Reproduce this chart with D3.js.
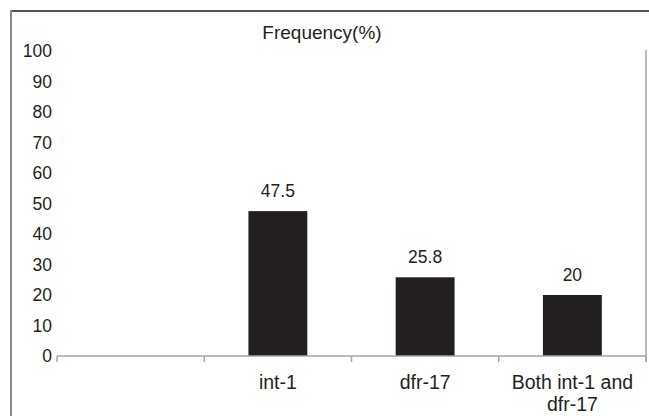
<!DOCTYPE html>
<html>
<head>
<meta charset="utf-8">
<script src="https://cdn.jsdelivr.net/npm/d3@7"></script>
<style>
  html, body { margin: 0; padding: 0; background: #fff; }
  svg { display: block; font-family: "Liberation Sans", Arial, sans-serif; }
</style>
</head>
<body>
<svg id="chart" width="649" height="416"></svg>
<script>
const categories = ["", "int-1", "dfr-17", "Both int-1 and dfr-17"];
const categoryLines = [[""], ["int-1"], ["dfr-17"], ["Both int-1 and", "dfr-17"]];
const values = [null, 47.5, 25.8, 20];
const valueLabels = ["", "47.5", "25.8", "20"];
const yTicks = [0, 10, 20, 30, 40, 50, 60, 70, 80, 90, 100];
const title = "Frequency(%)";

(function () {
const svg = d3.select("#chart");
const W = 649, H = 416;
const mLeft = 57, mRight = 646, mTop = 51, mBottom = 356;
const textColor = "#231f20";

// outer frame
svg.append("line").attr("x1", 11).attr("x2", W).attr("y1", 11).attr("y2", 11)
  .attr("stroke", "#555").attr("stroke-width", 2);
svg.append("line").attr("x1", 11).attr("x2", 11).attr("y1", 10).attr("y2", H)
  .attr("stroke", "#888").attr("stroke-width", 2);
svg.append("line").attr("x1", 646).attr("x2", 646).attr("y1", 50).attr("y2", 362)
  .attr("stroke", "#bbb").attr("stroke-width", 2);

const x = d3.scaleBand().domain(categories).range([mLeft, mRight]).padding(0);
const y = d3.scaleLinear().domain([0, 100]).range([mBottom, mTop]);

// title
svg.append("text").attr("x", 322).attr("y", 39).attr("text-anchor", "middle")
  .attr("font-size", 19).attr("fill", textColor).text(title);

// y tick labels
svg.append("g").selectAll("text").data(yTicks).join("text")
  .attr("x", 52).attr("y", d => y(d)).attr("dy", "0.35em")
  .attr("text-anchor", "end").attr("font-size", 17.5).attr("fill", textColor)
  .text(d => d);

// bars
const bw = x.bandwidth() * 0.4;
const data = values.map((v, i) => ({v, c: categories[i], l: valueLabels[i]})).filter(d => d.v != null);
svg.append("g").selectAll("rect").data(data)
  .join("rect")
  .attr("x", d => x(d.c) + x.bandwidth() / 2 - bw / 2)
  .attr("width", bw)
  .attr("y", d => y(d.v))
  .attr("height", d => y(0) - y(d.v))
  .attr("fill", "#231f20");

// value labels
svg.append("g").selectAll("text").data(data)
  .join("text")
  .attr("x", d => x(d.c) + x.bandwidth() / 2)
  .attr("y", d => y(d.v) - 14)
  .attr("text-anchor", "middle").attr("font-size", 17.5).attr("fill", textColor)
  .text(d => d.l);

// x axis line and ticks
const axisColor = "#a6a6a6";
svg.append("line").attr("x1", mLeft).attr("x2", mRight).attr("y1", y(0)).attr("y2", y(0))
  .attr("stroke", axisColor).attr("stroke-width", 1.5);
const boundaries = categories.map(c => x(c)).concat([mRight]);
svg.append("g").selectAll("line").data(boundaries).join("line")
  .attr("x1", d => d).attr("x2", d => d).attr("y1", y(0)).attr("y2", y(0) + 6)
  .attr("stroke", axisColor).attr("stroke-width", 1.5);

// category labels
const cl = svg.append("g");
categoryLines.forEach((lines, i) => {
  lines.forEach((ln, j) => {
    cl.append("text").attr("x", x(categories[i]) + x.bandwidth() / 2)
      .attr("y", 389 + j * 22).attr("text-anchor", "middle")
      .attr("font-size", 19.5).attr("fill", textColor).text(ln);
  });
});
})();
</script>
</body>
</html>
